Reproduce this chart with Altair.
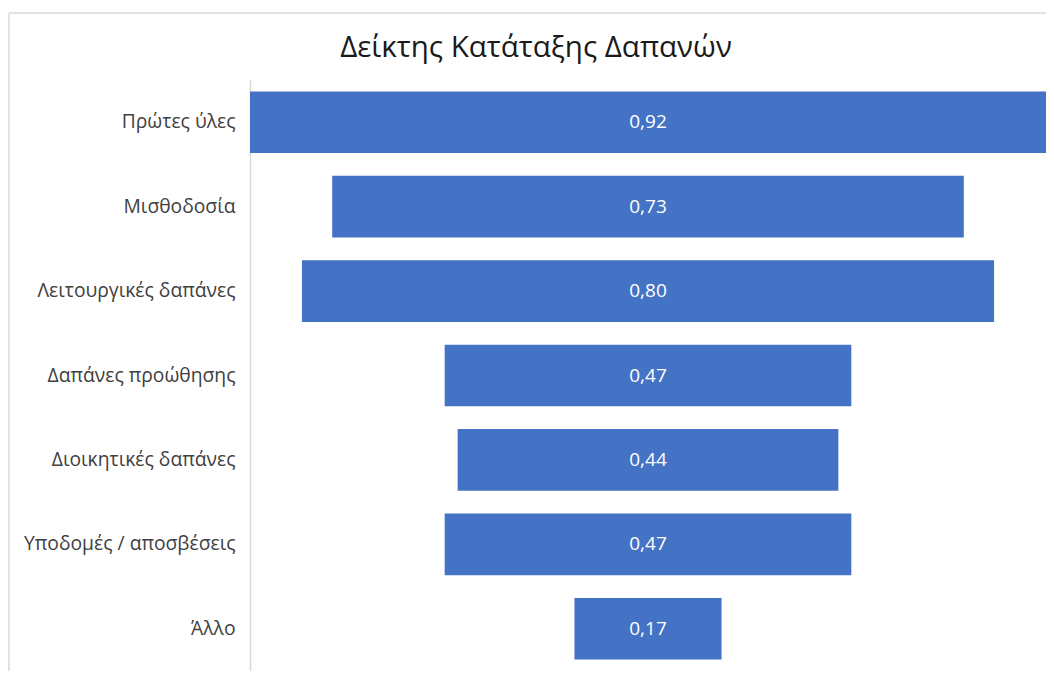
import altair as alt
import pandas as pd

categories = ["Πρώτες ύλες", "Μισθοδοσία", "Λειτουργικές δαπάνες", "Δαπάνες προώθησης",
              "Διοικητικές δαπάνες", "Υποδομές / αποσβέσεις", "Άλλο"]
values = [0.92, 0.73, 0.80, 0.47, 0.44, 0.47, 0.17]
title_text = ["Δείκτης Κατάταξης Δαπανών"]

df = pd.DataFrame({"cat": categories, "v": values})
tdf = pd.DataFrame({"t": title_text})

W, H = 796, 591
FONT = "Open Sans"

base = alt.Chart(df).transform_calculate(
    x0="-datum.v/2", x1="datum.v/2",
    lbl="replace(format(datum.v, '.2f'), '.', ',')"
)

yenc = alt.Y("cat:N", sort=categories, title=None,
             scale=alt.Scale(paddingInner=0.27, paddingOuter=0.135),
             axis=alt.Axis(domainColor="#d9d9d9", domainWidth=1.5, ticks=False,
                           labelPadding=15, labelFontSize=19.3, labelColor="#404040",
                           labelFont=FONT, labelLimit=300))
xscale = alt.Scale(domain=[-0.46, 0.46], nice=False, zero=False)

bars = base.mark_bar(color="#4472C4").encode(
    x=alt.X("x0:Q", scale=xscale, axis=None),
    x2="x1:Q",
    y=yenc,
)
labels = base.mark_text(color="white", font=FONT, fontSize=19).encode(
    x=alt.X("zero:Q", scale=xscale, axis=None),
    y=alt.Y("cat:N", sort=categories),
    text="lbl:N",
).transform_calculate(zero="0")

border_v = alt.Chart(tdf).mark_rule(color="#d9d9d9", strokeWidth=1.5).encode(
    x=alt.value(-241), y=alt.value(-67), y2=alt.value(H + 20))
border_h = alt.Chart(tdf).mark_rule(color="#d9d9d9", strokeWidth=1.5).encode(
    x=alt.value(-241), x2=alt.value(W + 20), y=alt.value(-67))

title = alt.Chart(tdf).mark_text(font=FONT, fontSize=29.5, color="#1a1a1a",
                                 baseline="alphabetic", align="center").encode(
    x=alt.value(286), y=alt.value(-23), text="t:N")

chart = alt.layer(bars, labels, border_v, border_h, title).properties(
    width=W, height=H,
    autosize=alt.AutoSizeParams(type="none"),
    padding={"left": 242, "top": 72, "right": 0, "bottom": 0},
).configure_view(stroke=None)

chart.save("out.html", embed_options={"renderer": "svg", "actions": False})
